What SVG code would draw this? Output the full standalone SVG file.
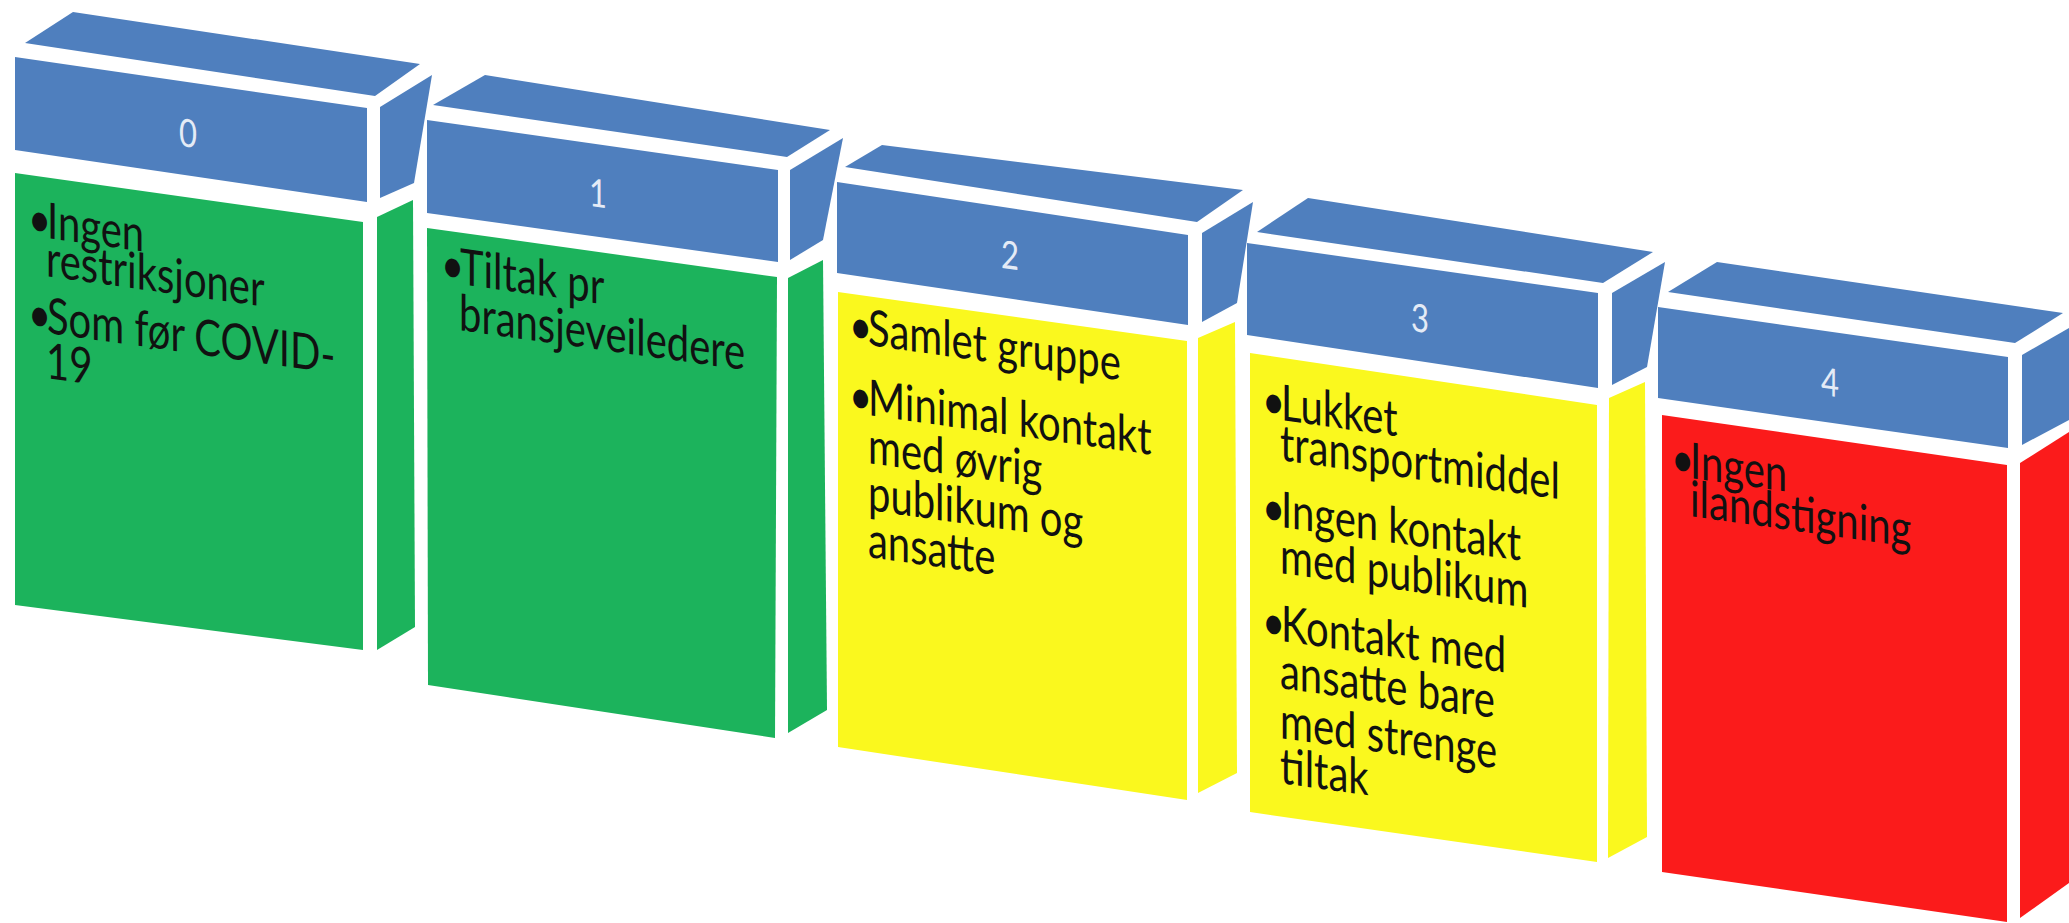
<svg xmlns="http://www.w3.org/2000/svg" width="2069" height="923" viewBox="0 0 2069 923">
<style>
.hd{fill:#4f7fbe}
.g{fill:#1cb35c}
.y{fill:#faf81e}
.r{fill:#fb1b1b}
.t{font-family:Lato,"Open Sans","Liberation Sans",sans-serif;font-size:40px;fill:#111}
.n{font-family:Lato,"Open Sans","Liberation Sans",sans-serif;font-size:31px;fill:#e4ebf6;text-anchor:middle}
</style>
<rect width="2069" height="923" fill="#ffffff"/>
<g id="level-0">
<polygon class="hd" points="25,43 73,12 420,64 375,96"/>
<polygon class="hd" points="15,57 367,108 367,202 15,150"/>
<polygon class="hd" points="380,107 432,75 414,183 380,198"/>
<polygon class="g" points="15,173 363,222 363,650 15,605"/>
<polygon class="g" points="377,217 413,200 415,627 377,650"/>
<text class="n" transform="matrix(1 0.14 0 1.25 188 147)">0</text>
<text class="t" transform="matrix(1 0.14 0 1.25 47 238)"><tspan x="-19">•</tspan><tspan x="0">Ingen</tspan></text>
<text class="t" transform="matrix(1 0.14 0 1.25 46 276)">restriksjoner</text>
<text class="t" transform="matrix(1 0.14 0 1.25 47 333)"><tspan x="-19">•</tspan><tspan x="0">Som før COVID-</tspan></text>
<text class="t" transform="matrix(1 0.14 0 1.25 46 378)">19</text>
</g>
<g id="level-1">
<polygon class="hd" points="433,105 485,75 830,130 787,157"/>
<polygon class="hd" points="427,120 778,170 778,262 427,213"/>
<polygon class="hd" points="790,170 843,138 823,240 790,260"/>
<polygon class="g" points="427,228 777,277 775,738 428,685"/>
<polygon class="g" points="788,278 823,260 827,710 788,733"/>
<text class="n" transform="matrix(1 0.14 0 1.25 598 207)">1</text>
<text class="t" transform="matrix(1 0.14 0 1.25 460 284)"><tspan x="-19">•</tspan><tspan x="0">Tiltak pr</tspan></text>
<text class="t" transform="matrix(1 0.14 0 1.25 459 330)">bransjeveiledere</text>
</g>
<g id="level-2">
<polygon class="hd" points="845,167 882,145 1243,190 1197,222"/>
<polygon class="hd" points="837,182 1188,235 1188,325 837,273"/>
<polygon class="hd" points="1202,233 1253,202 1237,303 1202,322"/>
<polygon class="y" points="838,292 1187,341 1187,800 838,747"/>
<polygon class="y" points="1198,338 1235,322 1237,773 1198,793"/>
<text class="n" transform="matrix(1 0.14 0 1.25 1010 269)">2</text>
<text class="t" transform="matrix(1 0.14 0 1.25 868 345)"><tspan x="-19">•</tspan><tspan x="0">Samlet gruppe</tspan></text>
<text class="t" transform="matrix(1 0.14 0 1.25 868 415)"><tspan x="-19">•</tspan><tspan x="0">Minimal kontakt</tspan></text>
<text class="t" transform="matrix(1 0.14 0 1.25 868 463)">med øvrig</text>
<text class="t" transform="matrix(1 0.14 0 1.25 868 510)">publikum og</text>
<text class="t" transform="matrix(1 0.14 0 1.25 868 557)">ansatte</text>
</g>
<g id="level-3">
<polygon class="hd" points="1257,232 1308,198 1653,252 1603,283"/>
<polygon class="hd" points="1247,243 1598,293 1598,388 1247,335"/>
<polygon class="hd" points="1612,293 1665,262 1647,367 1612,385"/>
<polygon class="y" points="1250,353 1597,405 1597,862 1250,812"/>
<polygon class="y" points="1609,398 1645,382 1647,837 1608,858"/>
<text class="n" transform="matrix(1 0.14 0 1.25 1420 332)">3</text>
<text class="t" transform="matrix(1 0.14 0 1.25 1281 420)"><tspan x="-19">•</tspan><tspan x="0">Lukket</tspan></text>
<text class="t" transform="matrix(1 0.14 0 1.25 1280 460)">transportmiddel</text>
<text class="t" transform="matrix(1 0.14 0 1.25 1281 527)"><tspan x="-19">•</tspan><tspan x="0">Ingen kontakt</tspan></text>
<text class="t" transform="matrix(1 0.14 0 1.25 1280 573)">med publikum</text>
<text class="t" transform="matrix(1 0.14 0 1.25 1281 641)"><tspan x="-19">•</tspan><tspan x="0">Kontakt med</tspan></text>
<text class="t" transform="matrix(1 0.14 0 1.25 1280 688)">ansatte bare</text>
<text class="t" transform="matrix(1 0.14 0 1.25 1280 738)">med strenge</text>
<text class="t" transform="matrix(1 0.14 0 1.25 1280 783)">tiltak</text>
</g>
<g id="level-4">
<polygon class="hd" points="1668,292 1717,262 2063,313 2015,343"/>
<polygon class="hd" points="1658,307 2008,357 2008,448 1658,398"/>
<polygon class="hd" points="2022,355 2069,328 2069,420 2022,445"/>
<polygon class="r" points="1662,415 2007,465 2007,922 1662,872"/>
<polygon class="r" points="2020,463 2069,432 2069,883 2020,918"/>
<text class="n" transform="matrix(1 0.14 0 1.25 1830 396)">4</text>
<text class="t" transform="matrix(1 0.14 0 1.25 1690 478)"><tspan x="-19">•</tspan><tspan x="0">Ingen</tspan></text>
<text class="t" transform="matrix(1 0.14 0 1.25 1690 516)">ilandstigning</text>
</g>
</svg>
